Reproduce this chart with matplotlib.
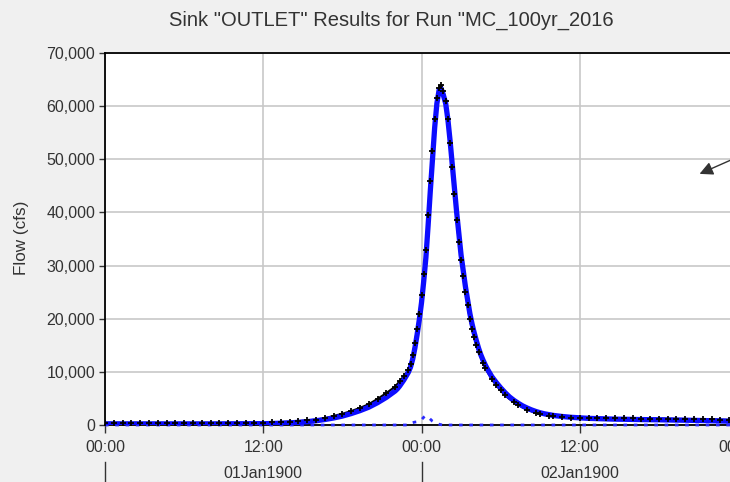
import numpy as np
import pandas as pd
import matplotlib
matplotlib.use('Agg')
import matplotlib.pyplot as plt
import matplotlib.dates as mdates
import matplotlib.ticker as mticker
import matplotlib.transforms as mtransforms
from matplotlib.lines import Line2D

plt.rcParams['font.family'] = ['Liberation Sans', 'DejaVu Sans']

# ---------------- data ----------------
title_text = 'Sink "OUTLET" Results for Run "MC_100yr_2016'
y_label = 'Flow (cfs)'
day_labels = ['01Jan1900', '02Jan1900']
start_time = '1900-01-01 00:00'
end_time = '1900-01-03 00:00'
y_ticks = [0, 10000, 20000, 30000, 40000, 50000, 60000, 70000]

# sample times (minutes after start)
minutes = np.concatenate([
    np.arange(0, 1321, 40),
    np.arange(1330, 1741, 10),
    np.arange(1760, 2041, 20),
    np.arange(2080, 2881, 40),
])

# black (+) series
obs_flow = [
    420, 420, 410, 410, 400, 400, 400, 400, 400, 400, 400, 400, 400, 410, 410,
    420, 430, 440, 450,
    480, 540, 620, 720, 850, 1000, 1250, 1700, 2100, 2600, 3200, 3900, 4900,
    6000, 7200,
    7700, 8200, 8700, 9200, 9700, 10300, 11500, 13200, 15500, 18000,
    20800, 24500, 28500, 33000, 39500, 46000, 51500, 57500, 61500, 63500,
    64000, 62800, 61000, 57500, 53000, 48500, 43500, 38500, 34500, 31000,
    28000, 25000, 22500, 20000, 18000, 16500, 15000, 13800, 12700, 11700,
    10800, 10000,
    8600, 7500, 6500, 5600, 4900, 4300, 3800, 3300, 2900, 2600, 2300, 2100,
    1900, 1750, 1650,
    1500, 1400, 1350, 1300, 1300, 1300, 1280, 1250, 1250, 1220, 1200, 1200,
    1180, 1150, 1120, 1100, 1080, 1050, 1000, 950, 900,
]

# blue thick series
sim_flow = [
    200, 200, 200, 200, 200, 200, 200, 200, 200, 200, 200, 200, 200, 200, 210,
    220, 230, 240, 250,
    280, 330, 400, 500, 630, 800, 1030, 1320, 1680, 2150, 2700, 3350, 4200,
    5200, 6400,
    6800, 7300, 7900, 8500, 9200, 9900, 10900, 12400, 14500, 17000,
    19800, 23000, 27000, 31500, 37500, 44000, 50000, 56000, 60500, 63000,
    63200, 62000, 60500, 57500, 53500, 49000, 44500, 40000, 36000, 32000,
    29000, 26000, 23500, 21000, 19000, 17300, 15800, 14400, 13200, 12200,
    11300, 10500,
    9100, 8000, 7000, 6100, 5300, 4650, 4100, 3600, 3200, 2850, 2550, 2300,
    2100, 1950, 1800,
    1600, 1450, 1350, 1250, 1200, 1150, 1100, 1080, 1050, 1020, 1000, 980,
    950, 920, 900, 870, 840, 800, 760, 720, 680,
]

# blue dotted series near zero
minor_flow = [
    0, 0, 0, 0, 0, 0, 0, 0, 0, 0, 0, 0, 0, 0, 0, 0, 0,
    0, 0, 0, 0, 0, 0, 0, 0, 0, 0, 0, 0, 0, 0, 0, 0, 0,
    0, 0, 0, 0, 0, 0, 200, 450, 550, 600, 700, 1000, 1450, 1750,
    1500, 1100, 700, 450, 300, 150, 50,
    0, 0, 0, 0, 0, 0, 0, 0, 0, 0, 0, 0, 0, 0, 0, 0, 0, 0, 0, 0, 0,
    0, 0, 0, 0, 0, 0, 0, 0, 0, 0, 0, 0, 0, 0, 0,
    0, 0, 0, 0, 0, 0, 0, 0, 0, 0, 0, 0, 0, 0, 0, 0, 0, 0, 0, 0, 0,
]

# ---------------- figure ----------------
W, H = 730, 482
TXT = '#333333'
fig = plt.figure(figsize=(W / 100, H / 100), dpi=100, facecolor='#f0f0f0')
ax = fig.add_axes([105 / W, 1 - 425 / H, 633 / W, 372 / H])
ax.set_facecolor('white')

times = (pd.Timestamp(start_time) + pd.to_timedelta(minutes, unit='min')).to_numpy()

ax.plot(times, minor_flow, color='#2a2aff', lw=2.0, ls=(0, (1.3, 2.4)),
        zorder=3, clip_on=False)
ax.plot(times, obs_flow, color='black', lw=1.6, zorder=4)
ax.plot(times, sim_flow, color='#0c0cff', lw=3.8, zorder=5,
        solid_capstyle='round', solid_joinstyle='round')
ax.plot(times, obs_flow, color='black', lw=0, marker='+', ms=4.5, mew=1.3,
        markevery=0.0112, zorder=6)

ax.set_xlim(np.datetime64('1900-01-01T00:00'), np.datetime64('1900-01-03T00:00'))
ax.set_ylim(0, 70000)
ax.set_yticks(y_ticks)
ax.yaxis.set_major_formatter(mticker.FuncFormatter(lambda v, p: f'{int(v):,}'))
ax.xaxis.set_major_locator(mdates.HourLocator(byhour=[0, 12]))
ax.xaxis.set_major_formatter(mdates.DateFormatter('%H:%M'))

ax.grid(True, color='#c8c8c8', lw=1.2)
ax.set_axisbelow(True)
for s in ['left', 'top', 'bottom', 'right']:
    ax.spines[s].set_color('black')
    ax.spines[s].set_linewidth(1.3)

ax.tick_params(axis='y', direction='out', length=4, width=1, pad=3,
               labelsize=11.5, labelcolor=TXT, color=TXT)
ax.tick_params(axis='x', direction='out', length=6, width=1, pad=5,
               labelsize=11.5, labelcolor=TXT, color=TXT)

fig.text(22 / W, 1 - 238 / H, y_label, rotation=90, ha='center', va='center',
         fontsize=12.3, color=TXT)
fig.text(391 / W, 1 - 20 / H, title_text, ha='center', va='center',
         fontsize=14.5, color=TXT)

# second row of date labels
blend = mtransforms.blended_transform_factory(ax.transData, fig.transFigure)
for i, lab in enumerate(day_labels):
    xc = mdates.date2num(np.datetime64('1900-01-01T12:00') + np.timedelta64(i, 'D'))
    ax.text(xc, 1 - 474 / H, lab, transform=blend, ha='center', va='center',
            fontsize=11.5, color=TXT, clip_on=False)
for i in range(3):
    xd = mdates.date2num(np.datetime64('1900-01-01T00:00') + np.timedelta64(i, 'D'))
    ax.add_line(Line2D([xd, xd], [1 - 462 / H, 0], transform=blend, color=TXT,
                       lw=1, clip_on=False))

# arrow at right edge
fig.patches.append(matplotlib.patches.FancyArrowPatch(
    (740 / W, 1 - 156 / H), (697 / W, 1 - 175 / H), transform=fig.transFigure,
    arrowstyle='-|>', mutation_scale=20, color='#333333', lw=1.0))

fig.savefig('out.png', dpi=100, facecolor=fig.get_facecolor())
